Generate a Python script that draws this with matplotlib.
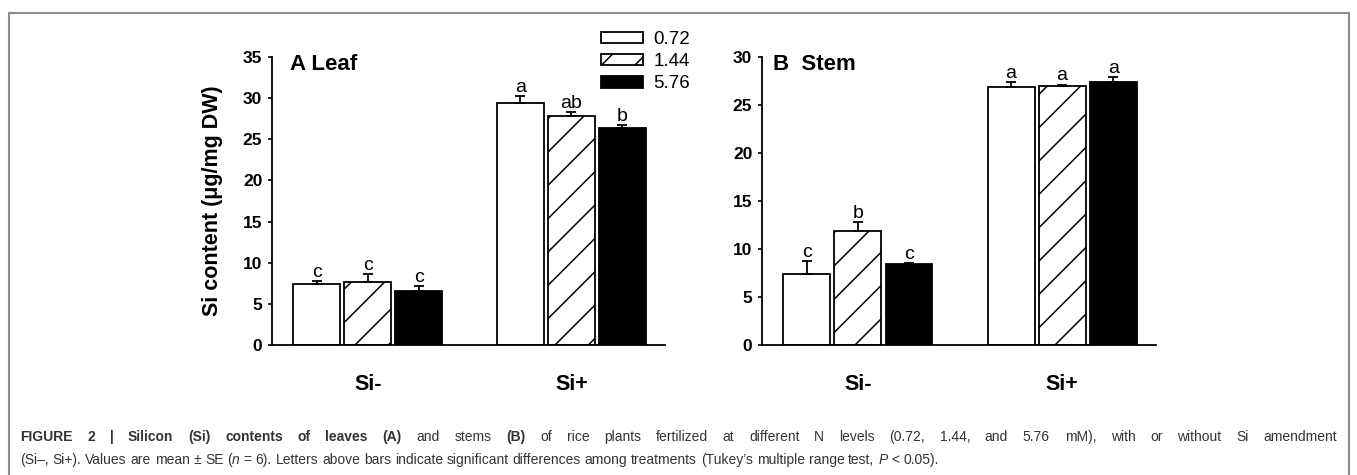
import matplotlib
matplotlib.use("Agg")
import matplotlib.pyplot as plt
import numpy as np
from matplotlib.transforms import IdentityTransform
from matplotlib.lines import Line2D

plt.rcParams['font.family'] = ['Liberation Sans', 'DejaVu Sans']
plt.rcParams['hatch.linewidth'] = 1.1

# Data
groups = ['Si-', 'Si+']
n_levels = ['0.72', '1.44', '5.76']

leaf_072 = [7.4, 29.4]
leaf_144 = [7.7, 27.8]
leaf_576 = [6.6, 26.4]
leaf_se_072 = [0.4, 0.8]
leaf_se_144 = [0.95, 0.5]
leaf_se_576 = [0.6, 0.35]
leaf_let_072 = ['c', 'a']
leaf_let_144 = ['c', 'ab']
leaf_let_576 = ['c', 'b']

stem_072 = [7.4, 26.9]
stem_144 = [11.9, 27.0]
stem_576 = [8.4, 27.4]
stem_se_072 = [1.3, 0.55]
stem_se_144 = [0.9, 0.15]
stem_se_576 = [0.15, 0.55]
stem_let_072 = ['c', 'a']
stem_let_144 = ['b', 'a']
stem_let_576 = ['c', 'a']

W, H = 1357, 475
fig = plt.figure(figsize=(W / 100, H / 100), dpi=100)

ax_a = fig.add_axes([272 / W, 1 - 345 / H, 393 / W, 288 / H])
ax_b = fig.add_axes([762 / W, 1 - 344.6 / H, 394 / W, 287.3 / H])

styles = [dict(facecolor='white', hatch=None),
          dict(facecolor='white', hatch='/'),
          dict(facecolor='black', hatch=None)]

x = np.arange(len(groups))
step = 0.25
width = 0.23


def draw_panel(ax, means, ses, letters, ymax, title, title_x):
    for i, (m, s, let) in enumerate(zip(means, ses, letters)):
        pos = x + (i - 1) * step
        ax.bar(pos, m, width, edgecolor='black', linewidth=1.3,
               label=n_levels[i], zorder=2, **styles[i])
        ax.errorbar(pos, m, yerr=[np.zeros(len(s)), s], fmt='none',
                    ecolor='black', elinewidth=1.3, capsize=3.5,
                    capthick=1.3, zorder=3)
        for p, mm, ss, l in zip(pos, m, s, let):
            ax.annotate(l, (p, mm + ss), xytext=(0, 3),
                        textcoords='offset points', ha='center',
                        va='baseline', fontsize=14)
    ax.set_xlim(-0.47, 1.46)
    ax.set_ylim(0, ymax)
    ax.set_yticks(np.arange(0, ymax + 1, 5))
    ax.set_xticks(x)
    ax.set_xticklabels(groups, fontsize=15.5, fontweight='bold')
    ax.tick_params(axis='x', length=0, pad=21)
    ax.tick_params(axis='y', direction='out', length=3, width=1.2, pad=4,
                   labelsize=12.5)
    for lab in ax.get_yticklabels():
        lab.set_fontweight('bold')
    for side in ['top', 'right']:
        ax.spines[side].set_visible(False)
    for side in ['left', 'bottom']:
        ax.spines[side].set_linewidth(1.3)
    ax.text(title_x, 0.975, title, transform=ax.transAxes, fontsize=16,
            fontweight='bold', ha='left', va='center')


draw_panel(ax_a, [leaf_072, leaf_144, leaf_576],
           [leaf_se_072, leaf_se_144, leaf_se_576],
           [leaf_let_072, leaf_let_144, leaf_let_576], 35, 'A Leaf', 0.046)
draw_panel(ax_b, [stem_072, stem_144, stem_576],
           [stem_se_072, stem_se_144, stem_se_576],
           [stem_let_072, stem_let_144, stem_let_576], 30, 'B  Stem', 0.027)

ax_a.set_ylabel('Si content (\u03bcg/mg DW)', fontsize=15.5, fontweight='bold',
                va='center')
ax_a.yaxis.set_label_coords(-0.152, 0.5)

ax_a.legend(loc='upper left', bbox_to_anchor=(601 / W, 1 - 31 / H),
            bbox_transform=fig.transFigure, frameon=False, fontsize=13.5,
            handlelength=2.25, handleheight=0.55, handletextpad=0.55,
            labelspacing=0.28, borderpad=0, borderaxespad=0)

# frame around the figure panel
frame_kw = dict(color='#8c8c8c', linewidth=1.5, transform=IdentityTransform())
fig.add_artist(Line2D([8.5, 8.5], [-5, H - 12.5], **frame_kw))
fig.add_artist(Line2D([8.5, W - 8.5], [H - 12.5, H - 12.5], **frame_kw))
fig.add_artist(Line2D([W - 8.5, W - 8.5], [-5, H - 12.5], **frame_kw))

# caption with mixed styles, first line justified
renderer = fig.canvas.get_renderer()
cap_size = 10.0
cap_color = '#333333'


def text_width(s, **kw):
    t = fig.text(0, 0, s, fontsize=cap_size, transform=IdentityTransform(), **kw)
    w = t.get_window_extent(renderer).width
    t.remove()
    return w


space_w = text_width('x x') - text_width('xx')


def draw_line(x0, y0, segments, right=None):
    words = []
    for txt, weight, style, gap in segments:
        for j, w in enumerate(txt.split(' ')):
            words.append((w, weight, style, gap if j == 0 else True))
    widths = [text_width(w, fontweight=wt, fontstyle=st) for w, wt, st, _ in words]
    n_gaps = sum(1 for w in words[1:] if w[3])
    gap_w = space_w
    if right is not None and n_gaps:
        gap_w = (right - x0 - sum(widths)) / n_gaps
    xx = x0
    for (w, wt, st, gap), wd in zip(words, widths):
        if gap and xx > x0:
            xx += gap_w
        fig.text(xx, y0, w, fontsize=cap_size, fontweight=wt, fontstyle=st,
                 color=cap_color, va='baseline', transform=IdentityTransform())
        xx += wd


line1 = [
    ('FIGURE 2 | Silicon (Si) contents of leaves (A)', 'bold', 'normal', False),
    ('and stems', 'normal', 'normal', True),
    ('(B)', 'bold', 'normal', True),
    ('of rice plants fertilized at different N levels (0.72, 1.44, and 5.76 mM), '
     'with or without Si amendment', 'normal', 'normal', True),
]
line2 = [
    ('(Si\u2013, Si+). Values are mean \u00b1 SE (', 'normal', 'normal', False),
    ('n', 'normal', 'italic', False),
    ('= 6). Letters above bars indicate significant differences among '
     'treatments (Tukey\u2019s multiple range test,', 'normal', 'normal', True),
    ('P', 'normal', 'italic', True),
    ('< 0.05).', 'normal', 'normal', True),
]
draw_line(20, H - 441, line1, right=1337)
draw_line(20, H - 464, line2)

fig.savefig('out.png', dpi=100)
